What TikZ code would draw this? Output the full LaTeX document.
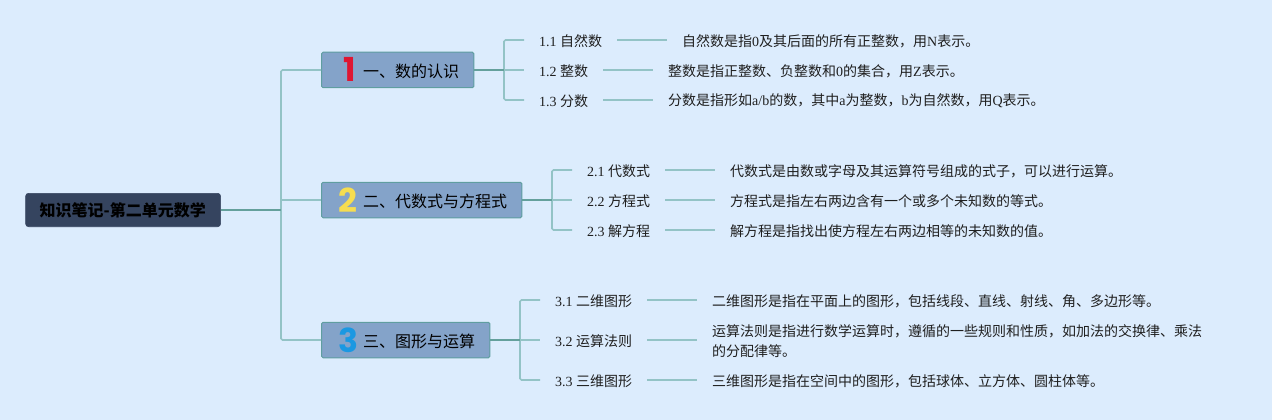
\documentclass[tikz,border=0pt]{standalone}
\usepackage{fontspec}
\setmainfont{Liberation Serif}
\newfontfamily\cjk{Noto Sans CJK SC}
\newfontfamily\iconfont{Poppins}
\newcommand{\Z}[1]{{\cjk #1}}
\definecolor{bgc}{HTML}{DCECFD}
\definecolor{rootc}{HTML}{35445F}
\definecolor{branchc}{HTML}{84A3C9}
\definecolor{edgec}{HTML}{5F9EA0}
\definecolor{darkl}{HTML}{64A09C}
\definecolor{lightl}{HTML}{93C3C6}
\definecolor{txt}{HTML}{1F1F1F}
\tikzset{
 rootbox/.style={draw=rootc,fill=rootc,rounded corners=3pt,line width=.6pt,minimum width=195pt,minimum height=33.4pt,inner sep=0pt,anchor=west,text=black},
 branchbox/.style={draw=edgec,fill=branchc,rounded corners=1.5pt,line width=1pt,minimum height=35.5pt,inner sep=0pt,anchor=west,text=black},
 btext/.style={anchor=west,inner sep=0pt,font=\fontsize{16}{16}\selectfont\cjk,text=black},
 childt/.style={anchor=west,inner xsep=15pt,inner ysep=0pt,text=txt,font=\fontsize{14}{14}\selectfont},
 desct/.style={anchor=west,inner xsep=15pt,inner ysep=0pt,text=txt,align=left,font=\fontsize{14}{20}\selectfont},
 icon/.style={inner sep=0pt,font=\fontsize{33}{33}\selectfont\bfseries\iconfont},
 lightline/.style={draw=lightl,line width=1.7pt,rounded corners=1.5pt},
 darkline/.style={draw=darkl,line width=1.7pt},
}
\begin{document}
\begin{tikzpicture}[x=1pt,y=-1pt]
\fill[bgc] (0,0) rectangle (1272,420);
\useasboundingbox (0,0) rectangle (1272,420);
% nodes
\node[rootbox] (root) at (25.3,210) {};
\node[btext,anchor=center,font=\bfseries\fontsize{16}{16}\selectfont\cjk] (roott) at (122.8,210.5) {知识笔记-第二单元数学};
\node[branchbox,minimum width=152.4pt] (b1) at (321,70) {};
\node[branchbox,minimum width=200.4pt] (b2) at (321,200) {};
\node[branchbox,minimum width=168.4pt] (b3) at (321,340) {};
\node[icon,text={rgb,255:red,222;green,22;blue,50}] (i1) at (349.5,69) {1};
\node[icon,text={rgb,255:red,246;green,221;blue,80}] (i2) at (348,200) {2};
\node[icon,text={rgb,255:red,27;green,152;blue,226}] (i3) at (348,340) {3};
\node[btext] (t1) at (363,71) {一、数的认识};
\node[btext] (t2) at (363,201) {二、代数式与方程式};
\node[btext] (t3) at (363,341) {三、图形与运算};
% group 1
\node[childt] (c11) at (524,41) {1.1 \Z{自然数}};
\node[childt] (c12) at (524,71) {1.2 \Z{整数}};
\node[childt] (c13) at (524,101) {1.3 \Z{分数}};
\node[desct] (d11) at (667,41) {\Z{自然数是指}0\Z{及其后面的所有正整数，用}N\Z{表示。}};
\node[desct] (d12) at (653,71) {\Z{整数是指正整数、负整数和}0\Z{的集合，用}Z\Z{表示。}};
\node[desct] (d13) at (653,101) {\Z{分数是指形如}a/b\Z{的数，其中}a\Z{为整数，}b\Z{为自然数，用}Q\Z{表示。}};
% group 2
\node[childt] (c21) at (572,171) {2.1 \Z{代数式}};
\node[childt] (c22) at (572,201) {2.2 \Z{方程式}};
\node[childt] (c23) at (572,231) {2.3 \Z{解方程}};
\node[desct] (d21) at (715,171) {\Z{代数式是由数或字母及其运算符号组成的式子，可以进行运算。}};
\node[desct] (d22) at (715,201) {\Z{方程式是指左右两边含有一个或多个未知数的等式。}};
\node[desct] (d23) at (715,231) {\Z{解方程是指找出使方程左右两边相等的未知数的值。}};
% group 3
\node[childt] (c31) at (540,301) {3.1 \Z{二维图形}};
\node[childt] (c32) at (540,341) {3.2 \Z{运算法则}};
\node[childt] (c33) at (540,381) {3.3 \Z{三维图形}};
\node[desct] (d31) at (697,301) {\Z{二维图形是指在平面上的图形，包括线段、直线、射线、角、多边形等。}};
\node[desct] (d32) at (697,341) {\Z{运算法则是指进行数学运算时，遵循的一些规则和性质，如加法的交换律、乘法}\\\Z{的分配律等。}};
\node[desct] (d33) at (697,381) {\Z{三维图形是指在空间中的图形，包括球体、立方体、圆柱体等。}};
% bus coordinates
\coordinate (r0) at (281,210);
\coordinate (r1) at (281,70);
\coordinate (r2) at (281,200);
\coordinate (r3) at (281,340);
% root connectors
\draw[lightline] (b1.west) -- (r1) -- (r3) -- (b3.west);
\draw[lightline] (b2.west) -- (r2);
\draw[darkline] (root.east) -- (r0);
% helper
\newcommand{\busdraw}[6]{%
 \coordinate (#1t) at (#2,#3);
 \coordinate (#1m) at (#2,#4);
 \coordinate (#1b) at (#2,#5);
 \draw[lightline] (#1t) ++(20,0) -- (#1t) -- (#1b) -- ++(20,0);
 \draw[lightline] (#1m) -- ++(20,0);
 \draw[darkline] (#6.east) -- (#1m);
}
\busdraw{p1}{504}{40}{70}{100}{b1}
\busdraw{p2}{552}{170}{200}{230}{b2}
\busdraw{p3}{520}{300}{340}{380}{b3}
% child to description
\foreach \i in {11,12,13,21,22,23,31,32,33}{
 \draw[lightline] ([yshift=1pt]c\i.east) -- ([yshift=1pt]d\i.west);
}
\end{tikzpicture}
\end{document}
